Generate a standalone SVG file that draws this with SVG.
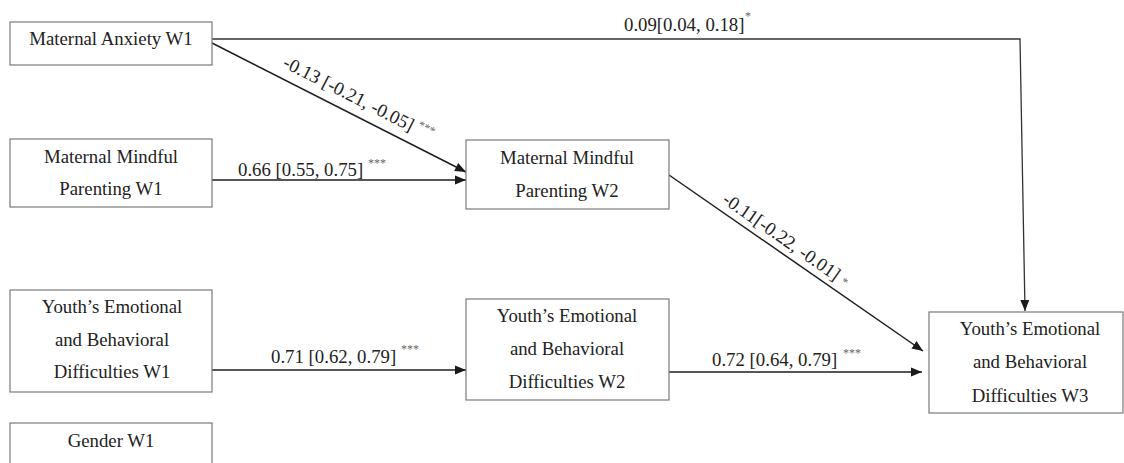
<svg xmlns="http://www.w3.org/2000/svg" width="1124" height="463" viewBox="0 0 1124 463">
<defs>
<marker id="arr" markerUnits="userSpaceOnUse" markerWidth="12" markerHeight="10" refX="11" refY="5" orient="auto">
<path d="M0,0.5 L11,5 L0,9.5 Z" fill="#1a1a1a"/>
</marker>
<style>
.box{fill:#fff;stroke:#7a7a7a;stroke-width:1.2}
.t{font-family:"Liberation Serif","Times New Roman",serif;font-size:18.8px;fill:#222}
.c{text-anchor:middle}
.edge{fill:none;stroke:#1e1e1e;stroke-width:1.5}
.sup{font-family:"Liberation Serif","Times New Roman",serif;font-size:12px;fill:#666}
</style>
</defs>
<rect width="1124" height="463" fill="#fff"/>

<g id="connectors">
<polyline class="edge" points="212,39 1020,39 1025,311" marker-end="url(#arr)" style="stroke-width:1.3;stroke:#333"/>
<line class="edge" x1="212" y1="43" x2="466" y2="172" marker-end="url(#arr)"/>
<line class="edge" x1="212" y1="180" x2="466" y2="180" marker-end="url(#arr)"/>
<line class="edge" x1="669" y1="175" x2="923" y2="351" marker-end="url(#arr)"/>
<line class="edge" x1="212" y1="370" x2="466" y2="370" marker-end="url(#arr)"/>
<line class="edge" x1="669" y1="372" x2="922" y2="372" marker-end="url(#arr)"/>

<text class="t" x="624" y="31">0.09[0.04, 0.18]</text>
<text class="sup" x="745" y="20">*</text>
<text class="t" transform="translate(281.8,66.6) rotate(26.93)">-0.13 [-0.21, -0.05]<tspan class="sup" dx="4" dy="-7">***</tspan></text>
<text class="t" x="238" y="176">0.66 [0.55, 0.75]</text>
<text class="sup" x="368" y="167">***</text>
<text class="t" transform="translate(721.3,202.1) rotate(34.87)">-0.11[-0.22, -0.01]<tspan class="sup" dx="5" dy="-1">*</tspan></text>
<text class="t" x="271" y="363">0.71 [0.62, 0.79]</text>
<text class="sup" x="401" y="353">***</text>
<text class="t" x="712" y="366">0.72 [0.64, 0.79]</text>
<text class="sup" x="843" y="357">***</text>
</g>

<g id="maternal-anxiety-w1">
<rect class="box" x="10" y="22" width="202" height="43"/>
<text class="t c" x="111" y="45">Maternal Anxiety W1</text>
</g>
<g id="maternal-mindful-parenting-w1">
<rect class="box" x="10" y="139" width="202" height="68"/>
<text class="t c" x="111" y="163">Maternal Mindful</text>
<text class="t c" x="111" y="195">Parenting W1</text>
</g>
<g id="youth-ebd-w1">
<rect class="box" x="10" y="290" width="202" height="102"/>
<text class="t c" x="112" y="313">Youth’s Emotional</text>
<text class="t c" x="112" y="346">and Behavioral</text>
<text class="t c" x="112" y="378">Difficulties W1</text>
</g>
<g id="gender-w1">
<rect class="box" x="10" y="423" width="202" height="60"/>
<text class="t c" x="111" y="447">Gender W1</text>
</g>
<g id="maternal-mindful-parenting-w2">
<rect class="box" x="466" y="140" width="203" height="69"/>
<text class="t c" x="567" y="164">Maternal Mindful</text>
<text class="t c" x="567" y="197">Parenting W2</text>
</g>
<g id="youth-ebd-w2">
<rect class="box" x="466" y="299" width="203" height="101"/>
<text class="t c" x="567" y="322">Youth’s Emotional</text>
<text class="t c" x="567" y="355">and Behavioral</text>
<text class="t c" x="567" y="388">Difficulties W2</text>
</g>
<g id="youth-ebd-w3">
<rect class="box" x="929" y="312" width="194" height="101"/>
<text class="t c" x="1030" y="335">Youth’s Emotional</text>
<text class="t c" x="1030" y="368">and Behavioral</text>
<text class="t c" x="1030" y="402">Difficulties W3</text>
</g>
</svg>
